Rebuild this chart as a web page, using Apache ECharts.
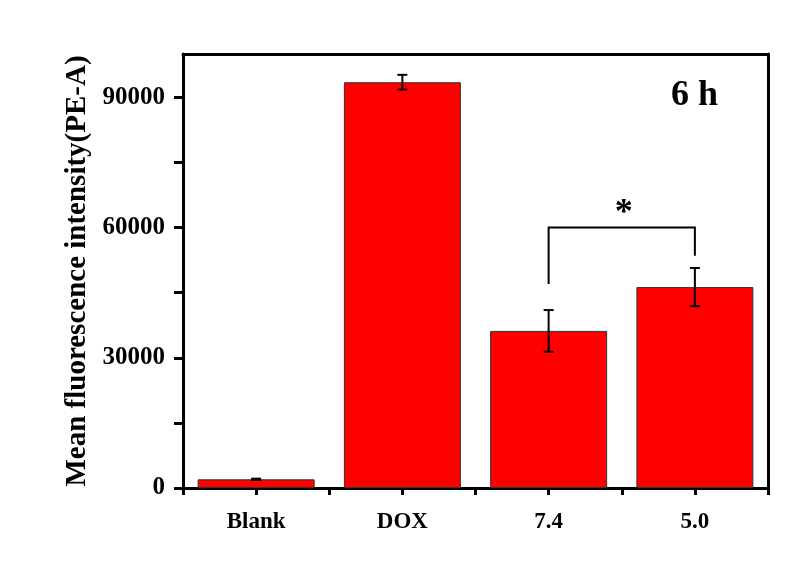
<!DOCTYPE html>
<html>
<head>
<meta charset="utf-8">
<script src="https://cdn.jsdelivr.net/npm/echarts@6/dist/echarts.min.js"></script>
<style>html,body{margin:0;padding:0;background:#fff}#c{width:794px;height:570px}</style>
</head>
<body>
<div id="c"></div>
<script>
const categories = ['Blank', 'DOX', '7.4', '5.0'];
const means = [2000, 93500, 36200, 46300];
const errors = [150, 1700, 4800, 4400];
const yLabelTicks = [0, 30000, 60000, 90000];
const yMinorTicks = [0, 15000, 30000, 45000, 60000, 75000, 90000];
const yMax = 100000;
const bracketFrom = 2, bracketTo = 3;
const bracketTop = 60000, bracketLeftEnd = 47000, bracketRightEnd = 53500;
const bracketMark = '*';
const panelLabel = '6 h';
const yTitle = 'Mean fluorescence intensity(PE-A)';

const FONT = '"Liberation Serif", "Times New Roman", serif';
const chart = echarts.init(document.getElementById('c'), null, {renderer: 'canvas'});

const lineW = 3;
chart.setOption({
  backgroundColor: '#fff',
  animation: false,
  grid: {left: 183, right: 26, top: 54, bottom: 82, containLabel: false},
  xAxis: [
    {type: 'category', data: categories, position: 'bottom', boundaryGap: true,
     axisLine: {show: true, onZero: false, lineStyle: {color: '#000', width: lineW}},
     axisTick: {show: true, length: 7, lineStyle: {color: '#000', width: lineW}},
     axisLabel: {show: true, margin: 23, color: '#000', fontFamily: FONT, fontWeight: 'bold', fontSize: 23},
     splitLine: {show: false}},
    {type: 'category', data: categories, position: 'bottom', boundaryGap: true,
     axisLine: {show: false},
     axisTick: {show: true, alignWithLabel: true, length: 7, lineStyle: {color: '#000', width: lineW}},
     axisLabel: {show: false}, splitLine: {show: false}},
    {type: 'category', data: categories, position: 'top', boundaryGap: true,
     axisLine: {show: true, onZero: false, lineStyle: {color: '#000', width: lineW}},
     axisTick: {show: false}, axisLabel: {show: false}, splitLine: {show: false}}
  ],
  yAxis: [
    {type: 'value', min: 0, max: yMax, position: 'left',
     name: yTitle, nameLocation: 'middle', nameGap: 88,
     nameTextStyle: {color: '#000', fontFamily: FONT, fontWeight: 'bold', fontSize: 29},
     axisLine: {show: true, onZero: false, lineStyle: {color: '#000', width: lineW}},
     axisTick: {show: true, length: 9, customValues: yMinorTicks, lineStyle: {color: '#000', width: lineW}},
     axisLabel: {show: true, customValues: yLabelTicks, margin: 18, color: '#000', fontFamily: FONT, fontWeight: 'bold', fontSize: 25,
                 formatter: function (v) { return String(v); }},
     splitLine: {show: false}},
    {type: 'value', min: 0, max: yMax, position: 'right',
     axisLine: {show: true, onZero: false, lineStyle: {color: '#000', width: lineW}},
     axisTick: {show: false}, axisLabel: {show: false}, splitLine: {show: false}}
  ],
  graphic: [
    {type: 'text', left: 671, top: 78,
     style: {text: panelLabel, fill: '#000', font: 'bold 36px ' + FONT}}
  ],
  series: [
    {type: 'bar', xAxisIndex: 0, yAxisIndex: 0, data: means, barCategoryGap: '20%',
     itemStyle: {color: '#ff0000', borderColor: '#333', borderWidth: 1}},
    {type: 'custom', xAxisIndex: 0, yAxisIndex: 0,
     data: means.map((m, i) => [i, m - errors[i], m + errors[i]]),
     renderItem: function (params, api) {
       const lo = api.coord([api.value(0), api.value(1)]);
       const hi = api.coord([api.value(0), api.value(2)]);
       const x = lo[0], cap = 5;
       const st = {stroke: '#000', lineWidth: 2};
       return {type: 'group', children: [
         {type: 'line', shape: {x1: x, y1: lo[1], x2: x, y2: hi[1]}, style: st},
         {type: 'line', shape: {x1: x - cap, y1: lo[1], x2: x + cap, y2: lo[1]}, style: st},
         {type: 'line', shape: {x1: x - cap, y1: hi[1], x2: x + cap, y2: hi[1]}, style: st}
       ]};
     }, z: 5},
    {type: 'custom', xAxisIndex: 0, yAxisIndex: 0,
     data: [[bracketFrom, bracketTo, bracketTop, bracketLeftEnd, bracketRightEnd]],
     renderItem: function (params, api) {
       const pLB = api.coord([api.value(0), api.value(3)]);
       const pLT = api.coord([api.value(0), api.value(2)]);
       const pRT = api.coord([api.value(1), api.value(2)]);
       const pRB = api.coord([api.value(1), api.value(4)]);
       const st = {stroke: '#000', lineWidth: 2, fill: null};
       return {type: 'group', children: [
         {type: 'polyline', shape: {points: [pLB, pLT, pRT, pRB]}, style: st},
         {type: 'text', x: (pLT[0] + pRT[0]) / 2 + 2, y: pLT[1] + 4,
          style: {text: bracketMark, fill: '#000', font: 'bold 36px ' + FONT, textAlign: 'center', textVerticalAlign: 'bottom'}}
       ]};
     }, z: 5}
  ]
});
</script>
</body>
</html>
